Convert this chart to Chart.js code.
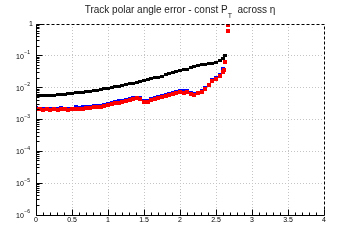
<!DOCTYPE html>
<html>
<head>
<meta charset="utf-8">
<script src="https://cdn.jsdelivr.net/npm/chart.js@4.4.0/dist/chart.umd.min.js"></script>
<style>
html, body { margin: 0; padding: 0; background: #fff; }
#wrap { width: 360px; height: 240px; }
</style>
</head>
<body>
<div id="wrap"><canvas id="myChart" width="360" height="240"></canvas></div>
<script>
// pseudorapidity bins
const eta = [0.00, 0.05, 0.10, 0.15, 0.20, 0.25, 0.30, 0.35, 0.40, 0.45,
             0.50, 0.55, 0.60, 0.65, 0.70, 0.75, 0.80, 0.85, 0.90, 0.95,
             1.00, 1.05, 1.10, 1.15, 1.20, 1.25, 1.30, 1.35, 1.40, 1.45,
             1.50, 1.55, 1.60, 1.65, 1.70, 1.75, 1.80, 1.85, 1.90, 1.95,
             2.00, 2.05, 2.10, 2.15, 2.20, 2.25, 2.30, 2.35, 2.40, 2.45,
             2.50, 2.55, 2.60];

// black series
const blackErr = [5.6e-3, 5.6e-3, 5.7e-3, 5.7e-3, 5.6e-3, 5.8e-3, 5.9e-3, 6.1e-3, 6.2e-3, 6.4e-3,
                  6.6e-3, 6.8e-3, 7.0e-3, 7.2e-3, 7.5e-3, 7.7e-3, 8.0e-3, 8.4e-3, 8.7e-3, 9.1e-3,
                  9.5e-3, 0.0100, 0.0105, 0.0111, 0.0118, 0.0125, 0.0132, 0.0140, 0.0148, 0.0158,
                  0.0168, 0.0178, 0.0190, 0.0202, 0.0215, 0.0232, 0.0250, 0.0270, 0.0290, 0.0315,
                  0.0340, 0.0360, 0.0385, 0.0415, 0.0450, 0.0480, 0.0520, 0.0550, 0.0565, 0.0590,
                  0.0640, 0.0720, 0.0830];
const blackTailEta = [2.63];
const blackTailErr = [0.100];

// blue series
const blueErr = [2.3e-3, 2.2e-3, 2.2e-3, 2.2e-3, 2.2e-3, 2.2e-3, 2.2e-3, 2.3e-3, 2.2e-3, 2.2e-3,
                 2.2e-3, 2.4e-3, 2.3e-3, 2.4e-3, 2.5e-3, 2.5e-3, 2.6e-3, 2.7e-3, 2.7e-3, 2.9e-3,
                 3.1e-3, 3.3e-3, 3.5e-3, 3.7e-3, 3.9e-3, 4.1e-3, 4.3e-3, 4.6e-3, 4.9e-3, 4.6e-3,
                 3.8e-3, 3.9e-3, 4.3e-3, 4.7e-3, 5.1e-3, 5.5e-3, 5.9e-3, 6.3e-3, 6.8e-3, 7.3e-3,
                 7.8e-3, 7.6e-3, 7.7e-3, 6.9e-3, 6.3e-3, 7.0e-3, 7.9e-3, 9.6e-3, 0.0125, 0.0170,
                 0.0200, 0.0250, 0.0380];

// red series
const redErr = [2.1e-3, 2.1e-3, 2.0e-3, 2.1e-3, 2.0e-3, 2.1e-3, 2.0e-3, 2.1e-3, 2.1e-3, 2.0e-3,
                2.1e-3, 2.2e-3, 2.1e-3, 2.2e-3, 2.3e-3, 2.3e-3, 2.4e-3, 2.5e-3, 2.5e-3, 2.7e-3,
                2.9e-3, 3.1e-3, 3.3e-3, 3.4e-3, 3.6e-3, 3.8e-3, 4.0e-3, 4.3e-3, 4.6e-3, 4.3e-3,
                3.5e-3, 3.6e-3, 4.0e-3, 4.4e-3, 4.8e-3, 5.1e-3, 5.5e-3, 5.8e-3, 6.3e-3, 6.8e-3,
                7.3e-3, 7.0e-3, 7.2e-3, 6.4e-3, 5.8e-3, 6.6e-3, 7.4e-3, 9.0e-3, 0.0120, 0.0160,
                0.0190, 0.0230, 0.0300];
const redTailEta = [2.61, 2.62, 2.66, 2.665];
const redTailErr = [0.036, 0.062, 0.60, 0.90];

// axes
const xTicks = [0, 0.5, 1, 1.5, 2, 2.5, 3, 3.5, 4];
const xTickLabels = ['0', '0.5', '1', '1.5', '2', '2.5', '3', '3.5', '4'];
const yExps = [-6, -5, -4, -3, -2, -1, 0];

const toPoints = (xs, ys) => xs.map((v, i) => ({x: v, y: ys[i]}));

// small filled box used as the marker
const makeMarker = (color, w, h) => {
    const c = document.createElement('canvas');
    c.width = w;
    c.height = h;
    const g = c.getContext('2d');
    g.fillStyle = color;
    g.fillRect(0, 0, w, h);
    return c;
};

const chart = document.getElementById('myChart');

const frame = {
    id: 'frame',
    beforeDatasetsDraw(c) {
        const ctx = c.ctx;
        const a = c.chartArea;
        const x = c.scales.x, y = c.scales.y;
        ctx.save();
        ctx.strokeStyle = '#c4c4c4';
        ctx.lineWidth = 1;
        ctx.setLineDash([1, 2]);
        for (const v of xTicks) {
            const px = Math.floor(x.getPixelForValue(v)) + 0.5;
            if (px <= a.left + 1 || px >= a.right - 1) continue;
            ctx.beginPath();
            ctx.moveTo(px, a.top);
            ctx.lineTo(px, a.bottom);
            ctx.stroke();
        }
        for (const e of yExps) {
            const py = Math.floor(y.getPixelForValue(Math.pow(10, e))) + 0.5;
            if (py <= a.top + 1 || py >= a.bottom - 1) continue;
            ctx.beginPath();
            ctx.moveTo(a.left, py);
            ctx.lineTo(a.right, py);
            ctx.stroke();
        }
        ctx.restore();
    },
    afterDatasetsDraw(c) {
        const ctx = c.ctx;
        const a = c.chartArea;
        const x = c.scales.x, y = c.scales.y;
        const L = Math.floor(a.left) + 0.5, R = Math.floor(a.right) + 0.5;
        const T = Math.floor(a.top) + 0.5, B = Math.floor(a.bottom) + 0.5;
        ctx.save();
        ctx.strokeStyle = '#000';
        ctx.lineWidth = 1;

        // dashed top / right frame
        ctx.setLineDash([3, 2]);
        ctx.beginPath();
        ctx.moveTo(L, T); ctx.lineTo(R, T); ctx.lineTo(R, B);
        ctx.stroke();
        ctx.setLineDash([]);

        // solid axes
        ctx.beginPath();
        ctx.moveTo(L, T); ctx.lineTo(L, B); ctx.lineTo(R, B);
        ctx.stroke();

        // x ticks
        ctx.beginPath();
        for (let i = 0; i <= 40; i++) {
            const px = Math.floor(x.getPixelForValue(i / 10)) + 0.5;
            const len = i % 5 === 0 ? 6 : 3;
            ctx.moveTo(px, B);
            ctx.lineTo(px, B - len);
        }
        // y ticks
        for (const e of yExps) {
            const base = Math.pow(10, e);
            let py = Math.floor(y.getPixelForValue(base)) + 0.5;
            ctx.moveTo(L, py); ctx.lineTo(L + 6, py);
            if (e === 0) continue;
            for (let m = 2; m <= 9; m++) {
                py = Math.floor(y.getPixelForValue(base * m)) + 0.5;
                ctx.moveTo(L, py); ctx.lineTo(L + 3, py);
            }
        }
        ctx.stroke();

        // tick labels
        ctx.fillStyle = '#000';
        ctx.font = '7px "Liberation Sans", Arial, sans-serif';
        ctx.textAlign = 'center';
        ctx.textBaseline = 'top';
        xTicks.forEach((v, i) => {
            ctx.fillText(xTickLabels[i], x.getPixelForValue(v), B + 1.5);
        });
        for (const e of yExps) {
            const py = y.getPixelForValue(Math.pow(10, e));
            ctx.textBaseline = 'middle';
            if (e === 0) {
                ctx.textAlign = 'right';
                ctx.font = '7px "Liberation Sans", Arial, sans-serif';
                ctx.fillText('1', 33, py);
                continue;
            }
            const sup = '\u2212' + (-e);
            ctx.font = '5px "Liberation Sans", Arial, sans-serif';
            const sw = ctx.measureText(sup).width;
            ctx.textAlign = 'right';
            ctx.fillText(sup, 30, py - 3);
            ctx.font = '7px "Liberation Sans", Arial, sans-serif';
            ctx.fillText('10', 30 - sw - 0.5, py + 1);
        }

        // title with subscript
        const f1 = '10px "Liberation Sans", Arial, sans-serif';
        const f2 = '7px "Liberation Sans", Arial, sans-serif';
        const s1 = 'Track polar angle error - const P';
        const s2 = 'T';
        const s3 = '  across \u03b7';
        ctx.font = f1;
        const w1 = ctx.measureText(s1).width, w3 = ctx.measureText(s3).width;
        ctx.font = f2;
        const w2 = ctx.measureText(s2).width;
        let tx = 180 - (w1 + w2 + w3) / 2;
        ctx.textAlign = 'left';
        ctx.textBaseline = 'alphabetic';
        ctx.fillStyle = '#222';
        ctx.font = f1;
        ctx.fillText(s1, tx, 13);
        tx += w1;
        ctx.font = f2;
        ctx.fillText(s2, tx, 18);
        tx += w2;
        ctx.font = f1;
        ctx.fillText(s3, tx, 13);
        ctx.restore();
    }
};

const markerStyle = (color, h) => ({
    pointStyle: makeMarker(color, 4, h),
    pointRadius: 2,
    pointHoverRadius: 2,
    pointBorderWidth: 0,
    backgroundColor: color,
    borderColor: color,
    showLine: false
});

new Chart(chart, {
    type: 'scatter',
    data: {
        datasets: [
            Object.assign({label: 'red', data: toPoints(eta, redErr).concat(toPoints(redTailEta, redTailErr))}, markerStyle('#ff0000', 4)),
            Object.assign({label: 'blue', data: toPoints(eta, blueErr)}, markerStyle('#0000ff', 4)),
            Object.assign({label: 'black', data: toPoints(eta, blackErr).concat(toPoints(blackTailEta, blackTailErr))}, markerStyle('#000000', 3))
        ]
    },
    options: {
        responsive: false,
        animation: false,
        devicePixelRatio: 1,
        layout: {padding: {left: 36, right: 36, top: 24, bottom: 25}},
        plugins: {legend: false, tooltip: false, title: false},
        scales: {
            x: {type: 'linear', min: 0, max: 4, display: false},
            y: {type: 'logarithmic', min: 1e-6, max: 1, display: false}
        }
    },
    plugins: [frame]
});
</script>
</body>
</html>
